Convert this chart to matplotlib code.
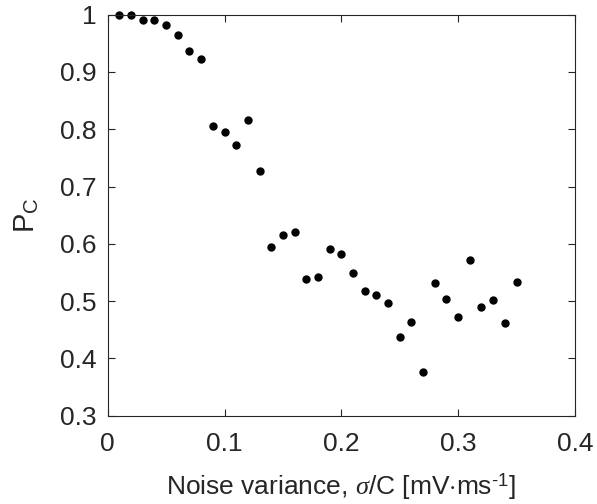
import matplotlib
matplotlib.use('Agg')
import matplotlib.pyplot as plt

# noise variance sigma/C and probability of correct response
noise = [0.01, 0.02, 0.03, 0.04, 0.05, 0.06, 0.07, 0.08, 0.09, 0.10,
         0.11, 0.12, 0.13, 0.14, 0.15, 0.16, 0.17, 0.18, 0.19, 0.20,
         0.21, 0.22, 0.23, 0.24, 0.25, 0.26, 0.27, 0.28, 0.29, 0.30,
         0.31, 0.32, 0.33, 0.34, 0.35]
pc = [1.0, 1.0, 0.990, 0.991, 0.982, 0.965, 0.937, 0.923, 0.806, 0.795,
      0.773, 0.816, 0.728, 0.594, 0.616, 0.620, 0.539, 0.543, 0.591, 0.583,
      0.549, 0.517, 0.511, 0.497, 0.438, 0.464, 0.377, 0.531, 0.504, 0.472,
      0.572, 0.490, 0.502, 0.461, 0.533]

xticks = [0, 0.1, 0.2, 0.3, 0.4]
xtick_labels = ['0', '0.1', '0.2', '0.3', '0.4']
yticks = [0.3, 0.4, 0.5, 0.6, 0.7, 0.8, 0.9, 1.0]
ytick_labels = ['0.3', '0.4', '0.5', '0.6', '0.7', '0.8', '0.9', '1']

plt.rcParams['font.family'] = ['Liberation Sans', 'DejaVu Sans']
plt.rcParams['mathtext.fontset'] = 'custom'
plt.rcParams['mathtext.rm'] = 'Liberation Sans'
plt.rcParams['mathtext.it'] = 'Liberation Serif:italic'

gray = '#262626'

fig = plt.figure(figsize=(5.97, 5.04), dpi=100)
ax = fig.add_axes([0.1804, 0.1752, 0.7826, 0.7956])

ax.plot(noise, pc, 'o', color='black', markersize=5, clip_on=False)

ax.set_xlim(0, 0.4)
ax.set_ylim(0.3, 1.0)
ax.set_xticks(xticks)
ax.set_xticklabels(xtick_labels)
ax.set_yticks(yticks)
ax.set_yticklabels(ytick_labels)

ax.tick_params(direction='in', top=True, right=True, length=5, width=0.8,
               colors=gray, labelsize=19)
ax.tick_params(axis='x', pad=12)
ax.tick_params(axis='y', pad=8)
for s in ax.spines.values():
    s.set_color(gray)
    s.set_linewidth(0.8)

ax.set_xlabel(r'Noise variance, $\it{\sigma}$/C [mV$\cdot$ms$^{\text{-1}}$]',
              fontsize=19, color=gray, labelpad=11)
ax.set_ylabel(r'P$_\mathrm{C}$', fontsize=21, color=gray, labelpad=14)

fig.savefig('out.png', dpi=100)
